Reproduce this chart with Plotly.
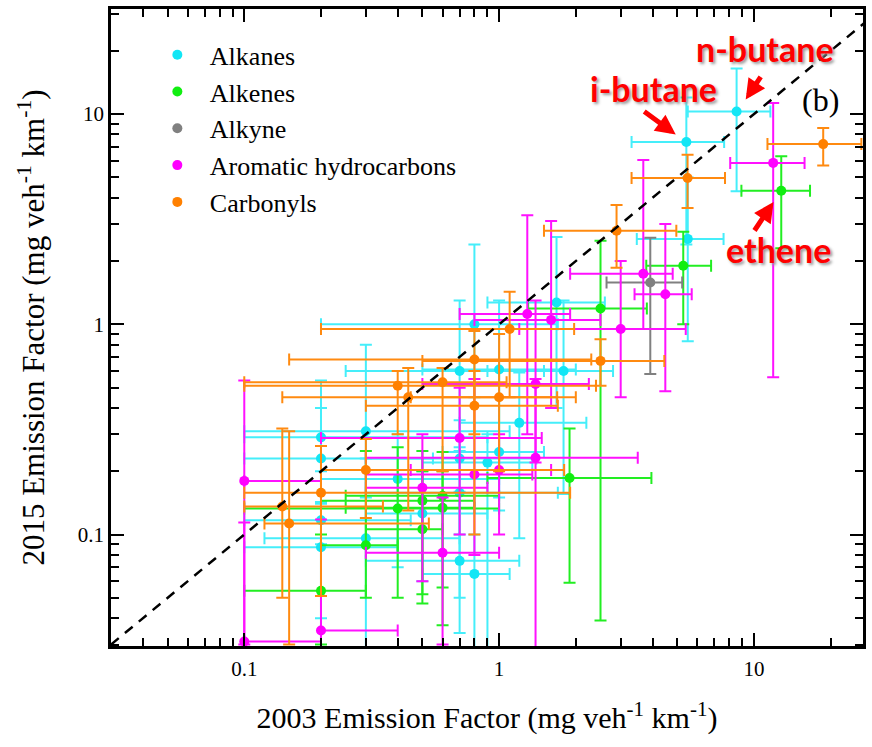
import plotly.graph_objects as go

# ---- Emission factors (mg veh-1 km-1): 2003 (x) vs 2015 (y), with ranges ----
# Alkanes
alk_x    = [0.20, 0.20, 0.20, 0.20, 0.30, 0.30, 0.40, 0.50, 0.70, 0.70, 0.70, 0.70,
            0.80, 0.80, 0.90, 1.0, 1.0, 1.2, 1.68, 1.79, 5.5, 5.43, 8.55]
alk_y    = [0.29, 0.23, 0.117, 0.087, 0.31, 0.096, 0.184, 0.126, 0.23, 0.158, 0.075, 0.60,
            0.065, 1.0, 0.22, 0.247, 0.61, 0.34, 1.27, 0.60, 2.55, 7.37, 10.3]
alk_xlo  = [0.10, 0.10, 0.10, 0.10, 0.10, 0.12, 0.20, 0.30, 0.30, 0.30, 0.30, 0.25,
            0.50, 0.20, 0.50, 0.60, 0.50, 0.70, 0.90, 0.90, 3.47, 3.31, 5.5]
alk_xhi  = [0.90, 0.55, 0.45, 0.40, 1.1, 0.70, 1.0, 0.90, 1.4, 1.7, 1.2, 1.5,
            1.1, 1.7, 1.35, 1.5, 2.0, 2.2, 2.6, 2.8, 7.6, 7.64, 11.6]
alk_ylo  = [0.14, 0.09, 0.04, 0.0, 0.15, 0.0, 0.07, 0.06, 0.10, 0.05, 0.034, 0.25,
            0.0, 0.45, 0.0, 0.13, 0.15, 0.096, 0.40, 0.156, 0.83, 2.4, 4.3]
alk_yhi  = [0.54, 0.40, 0.143, 0.20, 0.80, 0.23, 0.30, 0.20, 0.35, 0.26, 0.16, 1.3,
            0.10, 2.4, 0.30, 0.60, 1.3, 0.59, 2.6, 1.3, 5.0, 12.0, 16.5]

# Alkenes
ene_x    = [0.20, 0.30, 0.40, 0.50, 0.50, 0.60, 0.60, 1.89, 2.5, 5.28, 12.8]
ene_y    = [0.054, 0.089, 0.133, 0.145, 0.106, 0.153, 0.134, 0.186, 1.19, 1.90, 4.32]
ene_xlo  = [0.10, 0.20, 0.10, 0.20, 0.30, 0.25, 0.25, 0.90, 1.3, 3.78, 8.93]
ene_xhi  = [0.30, 0.40, 1.0, 0.80, 0.60, 1.0, 0.80, 3.96, 3.8, 6.79, 16.6]
ene_ylo  = [0.03, 0.05, 0.05, 0.047, 0.052, 0.056, 0.037, 0.059, 0.039, 1.0, 2.3]
ene_yhi  = [0.10, 0.25, 0.26, 0.25, 0.20, 0.247, 0.20, 0.32, 2.5, 2.76, 6.3]

# Alkyne
yne_x    = [3.92]
yne_y    = [1.58]
yne_xlo  = [2.64]
yne_xhi  = [5.23]
yne_ylo  = [0.58]
yne_yhi  = [2.58]

# Aromatic hydrocarbons
aro_x    = [0.10, 0.10, 0.20, 0.50, 0.60, 0.70, 0.80, 1.0, 1.39, 1.39, 1.29, 1.6,
            3.0, 3.68, 4.49, 11.9]
aro_y    = [0.18, 0.031, 0.035, 0.167, 0.082, 0.288, 0.193, 0.203, 0.232, 0.52, 1.12, 1.05,
            0.95, 1.74, 1.39, 5.86]
aro_xlo  = [0.10, 0.10, 0.20, 0.30, 0.30, 0.20, 0.30, 0.45, 0.30, 0.50, 0.70, 0.80,
            1.2, 1.9, 3.4, 8.07]
aro_xhi  = [0.20, 0.20, 0.40, 0.90, 1.0, 1.47, 1.35, 1.6, 3.5, 2.25, 1.9, 2.5,
            5.4, 4.8, 5.7, 15.8]
aro_ylo  = [0.03, 0.0, 0.0, 0.06, 0.03, 0.10, 0.08, 0.10, 0.0, 0.22, 0.30, 0.40,
            0.45, 0.95, 0.48, 0.56]
aro_yhi  = [0.54, 0.114, 0.118, 0.30, 0.15, 0.50, 0.55, 0.30, 0.55, 1.3, 3.3, 3.1,
            2.0, 6.05, 3.0, 11.3]

# Carbonyls
car_x    = [0.141, 0.150, 0.20, 0.30, 0.40, 0.44, 0.60, 0.80, 0.80, 1.0, 1.1, 2.5,
            2.89, 5.49, 18.7]
car_y    = [0.136, 0.113, 0.158, 0.203, 0.51, 0.45, 0.53, 0.68, 0.41, 0.45, 0.95, 0.67,
            2.79, 4.97, 7.2]
car_xlo  = [0.10, 0.12, 0.10, 0.20, 0.10, 0.141, 0.10, 0.15, 0.30, 0.45, 0.20, 0.50,
            1.5, 3.31, 11.3]
car_xhi  = [0.35, 0.53, 1.9, 1.8, 2.4, 2.0, 1.07, 2.3, 1.7, 1.69, 1.97, 4.45,
            4.96, 7.7, 26.4]
car_ylo  = [0.05, 0.03, 0.051, 0.12, 0.30, 0.13, 0.20, 0.30, 0.10, 0.20, 0.45, 0.51,
            1.86, 3.58, 5.7]
car_yhi  = [0.32, 0.31, 0.264, 0.285, 0.60, 0.62, 0.62, 0.93, 0.60, 0.90, 1.43, 0.85,
            3.7, 6.4, 8.6]

# 1:1 reference line endpoints
one_to_one = [0.03, 27.0]

x_ticks = [0.1, 1, 10]
y_ticks = [0.1, 1, 10]

groups = [
    ("Alkanes", "#12E6F5", "#45EEFA", alk_x, alk_y, alk_xlo, alk_xhi, alk_ylo, alk_yhi),
    ("Alkenes", "#11EE11", "#22EE22", ene_x, ene_y, ene_xlo, ene_xhi, ene_ylo, ene_yhi),
    ("Alkyne", "#808080", "#808080", yne_x, yne_y, yne_xlo, yne_xhi, yne_ylo, yne_yhi),
    ("Aromatic hydrocarbons", "#FF00FF", "#FF11FF", aro_x, aro_y, aro_xlo, aro_xhi, aro_ylo, aro_yhi),
    ("Carbonyls", "#FF8000", "#FF8A10", car_x, car_y, car_xlo, car_xhi, car_ylo, car_yhi),
]

fig = go.Figure()
for name, mcol, ecol, xs, ys, xlo, xhi, ylo, yhi in groups:
    fig.add_trace(go.Scatter(
        x=xs, y=ys, mode="markers", name=name,
        marker=dict(color=mcol, size=10),
        error_x=dict(type="data", symmetric=False,
                     array=[h - v for v, h in zip(xs, xhi)],
                     arrayminus=[v - l for v, l in zip(xs, xlo)],
                     color=ecol, thickness=2, width=6),
        error_y=dict(type="data", symmetric=False,
                     array=[h - v for v, h in zip(ys, yhi)],
                     arrayminus=[v - l for v, l in zip(ys, ylo)],
                     color=ecol, thickness=2, width=6),
    ))

fig.add_trace(go.Scatter(
    x=one_to_one, y=one_to_one, mode="lines", showlegend=False,
    line=dict(color="black", width=2.5, dash="10px,8px"),
))

minor_x = [m * d for d in (0.01, 0.1, 1, 10) for m in range(2, 10)]
minor_y = minor_x

axis_common = dict(
    type="log", showgrid=False, zeroline=False,
    showline=True, linecolor="black", linewidth=2.5, mirror="allticks",
    ticks="inside", ticklen=13, tickwidth=2, tickcolor="black",
    tickmode="array",
    tickfont=dict(family="Liberation Serif", size=21, color="black"),
)

fig.update_xaxes(
    **axis_common,
    range=[-1.523, 1.428],
    tickvals=x_ticks, ticktext=["0.1", "1", "10"],
    ticklabelstandoff=2,
    minor=dict(ticks="inside", ticklen=8, tickwidth=2, tickcolor="black",
               tickmode="array", tickvals=minor_x, showgrid=False),
    title=dict(text="2003 Emission Factor (mg veh<sup>-1</sup> km<sup>-1</sup>)",
               font=dict(family="Liberation Serif", size=30, color="black"),
               standoff=28),
)
fig.update_yaxes(
    **axis_common,
    range=[-1.53, 1.50],
    tickvals=y_ticks, ticktext=["0.1", "1", "10"],
    ticklabelstandoff=0,
    minor=dict(ticks="inside", ticklen=8, tickwidth=2, tickcolor="black",
               tickmode="array", tickvals=minor_y, showgrid=False),
    title=dict(text="2015 Emission Factor (mg veh<sup>-1</sup> km<sup>-1</sup>)",
               font=dict(family="Liberation Serif", size=31, color="black"),
               standoff=24),
)

red_font = dict(family="Lato", size=34, color="#FF0000", weight="bold",
                shadow="2px 2px 3px #999999")
label_common = dict(xref="paper", yref="paper", showarrow=False,
                    xanchor="center", yanchor="middle")
arrow_common = dict(xref="paper", yref="paper", text="", showarrow=True,
                    arrowhead=2, arrowsize=0.8, arrowwidth=5, arrowcolor="#FF0000",
                    axref="pixel", ayref="pixel")

annotations = [
    dict(x=0.870, y=0.938, text="n-butane", font=red_font, **label_common),
    dict(x=0.722, y=0.875, text="i-butane", font=red_font, **label_common),
    dict(x=0.887, y=0.622, text="ethene", font=red_font, **label_common),
    dict(x=0.944, y=0.857, text="(b)",
         font=dict(family="Liberation Serif", size=32, color="black"), **label_common),
    dict(x=0.751, y=0.803, ax=-33, ay=-24, **arrow_common),
    dict(x=0.844, y=0.858, ax=16, ay=-24, **arrow_common),
    dict(x=0.881, y=0.697, ax=-20, ay=30, **arrow_common),
]

fig.update_layout(
    width=872, height=747,
    margin=dict(l=111, r=6, t=6, b=101),
    paper_bgcolor="white", plot_bgcolor="white",
    showlegend=True,
    legend=dict(x=0.045, y=0.965, xanchor="left", yanchor="top",
                bgcolor="rgba(0,0,0,0)", borderwidth=0,
                font=dict(family="Liberation Serif", size=26, color="black"),
                itemwidth=55, tracegroupgap=0),
    annotations=annotations,
)

fig.write_html("out.html")
